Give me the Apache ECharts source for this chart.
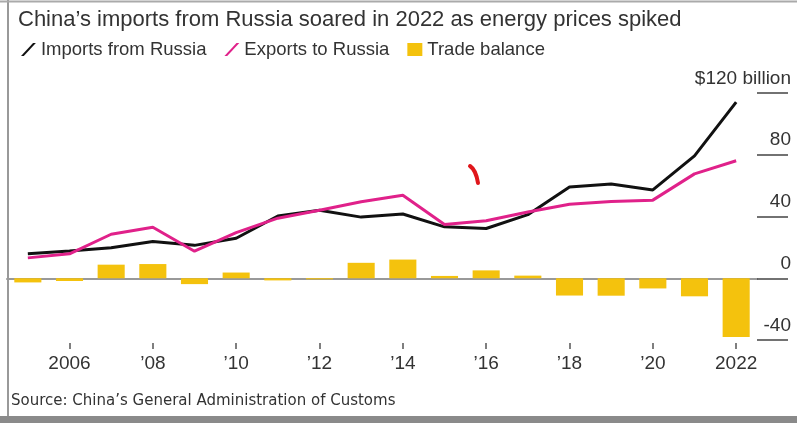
<!DOCTYPE html>
<html>
<head>
<meta charset="utf-8">
<title>China-Russia trade</title>
<script src="https://cdn.jsdelivr.net/npm/echarts@6/dist/echarts.min.js"></script>
<style>
    html,body{margin:0;padding:0;background:#fff;}
    #chart{width:797px;height:423px;}
</style>
</head>
<body>
<div id="chart"></div>
<script>
var years = ['2005','2006','2007','2008','2009','2010','2011','2012','2013',
    '2014','2015','2016','2017','2018','2019','2020','2021','2022'];
var importsFromRussia = [15.9,17.6,19.7,23.8,21.3,25.9,40.3,44.1,39.6,41.6,33.3,32.2,41.2,59.1,61.0,57.2,79.3,114.1];
var exportsToRussia = [13.2,15.8,28.5,33.0,17.5,29.6,38.9,44.1,49.6,53.7,34.8,37.3,42.9,47.9,49.7,50.6,67.6,76.1];
var tradeBalance = [-2.7,-1.8,8.8,9.2,-3.8,3.7,-1.4,-0.7,10.0,12.1,1.5,5.1,1.7,-11.2,-11.3,-6.6,-11.7,-38.0];
var yTicks = {min:-40,max:120,step:40};

var FONT = '"Liberation Sans", Arial, sans-serif';
var WIDE = '"DejaVu Sans", Verdana, sans-serif';
var INK = '#333';
var BLACK = '#111';
var PINK = '#e0218a';
var GOLD = '#f4c20d';

var slash = 'path://M0,14 L3,14 L16,0 L13,0 Z';

var chart = echarts.init(document.getElementById('chart'));
chart.setOption(buildOption());

function yearLabel(y){
    if(y === '2006' || y === '2022') return y;
    return '\u2019' + y.slice(2);
}

function evenYear(idx, val){
    return Number(val) % 2 === 0;
}

function buildOption(){
    return {
        animation:false,
        backgroundColor:'#fff',
        textStyle:{fontFamily:FONT},
        title:{
            text:"China\u2019s imports from Russia soared in 2022 as energy prices spiked",
            left:13,
            top:4,
            textStyle:{fontSize:22,fontWeight:'normal',color:INK,fontFamily:FONT}
        },
        legend:{
            left:16,
            top:35,
            itemWidth:15,
            itemHeight:13,
            itemGap:18,
            textStyle:{fontSize:18.5,color:INK,fontFamily:FONT},
            data:[
                {name:'Imports from Russia',icon:slash},
                {name:'Exports to Russia',icon:slash},
                {name:'Trade balance',icon:'rect'}
            ]
        },
        grid:{left:7,right:40,top:93,bottom:83},
        xAxis:[{
            type:'category',
            data:years,
            boundaryGap:true,
            offset:3,
            axisLine:{show:false,onZero:false},
            axisTick:{show:true,alignWithLabel:true,interval:evenYear,length:6,
                lineStyle:{color:'#555',width:1.5}},
            axisLabel:{interval:evenYear,formatter:yearLabel,margin:11,
                fontSize:19,color:INK,fontFamily:FONT}
        },{
            // zero line
            type:'category',
            data:years,
            position:'top',
            axisLine:{show:true,onZero:true,lineStyle:{color:'#999',width:2}},
            axisTick:{show:false},
            axisLabel:{show:false}
        }],
        yAxis:{
            type:'value',
            position:'right',
            min:yTicks.min,
            max:yTicks.max,
            interval:yTicks.step,
            splitLine:{show:false},
            axisLine:{show:false},
            axisTick:{show:true,inside:false,length:31,lineStyle:{color:'#444',width:1.5}},
            axisLabel:{
                align:'right',
                verticalAlign:'bottom',
                margin:34,
                padding:[0,0,5,0],
                fontSize:19,
                color:INK,
                fontFamily:FONT,
                formatter:function(v){ return v === yTicks.max ? '$' + v + ' billion' : String(v); }
            }
        },
        series:[{
            name:'Imports from Russia',
            type:'line',
            data:importsFromRussia,
            showSymbol:false,
            z:4,
            itemStyle:{color:BLACK},
            lineStyle:{color:BLACK,width:3}
        },{
            name:'Exports to Russia',
            type:'line',
            data:exportsToRussia,
            showSymbol:false,
            z:5,
            itemStyle:{color:PINK},
            lineStyle:{color:PINK,width:3}
        },{
            name:'Trade balance',
            type:'bar',
            data:tradeBalance,
            barWidth:'65%',
            z:3,
            itemStyle:{color:GOLD}
        }],
        graphic:[{
            type:'text',
            left:11,
            top:394,
            style:{text:"Source: China\u2019s General Administration of Customs",
                fontSize:15,fill:INK,fontFamily:WIDE}
        },{
            // stray pen mark in the source picture
            type:'bezierCurve',
            shape:{x1:470,y1:166,x2:478,y2:183,cpx1:476,cpy1:170},
            style:{stroke:'#e0161b',lineWidth:4,lineCap:'round'}
        },{
            type:'rect',
            shape:{x:0,y:416,width:797,height:7},
            style:{fill:'#8a8a8a'}
        },{
            type:'line',
            shape:{x1:8,y1:0,x2:8,y2:416},
            style:{stroke:'#999',lineWidth:2}
        },{
            type:'line',
            shape:{x1:0,y1:1.5,x2:797,y2:1.5},
            style:{stroke:'#aaa',lineWidth:2}
        }]
    };
}
</script>
</body>
</html>
